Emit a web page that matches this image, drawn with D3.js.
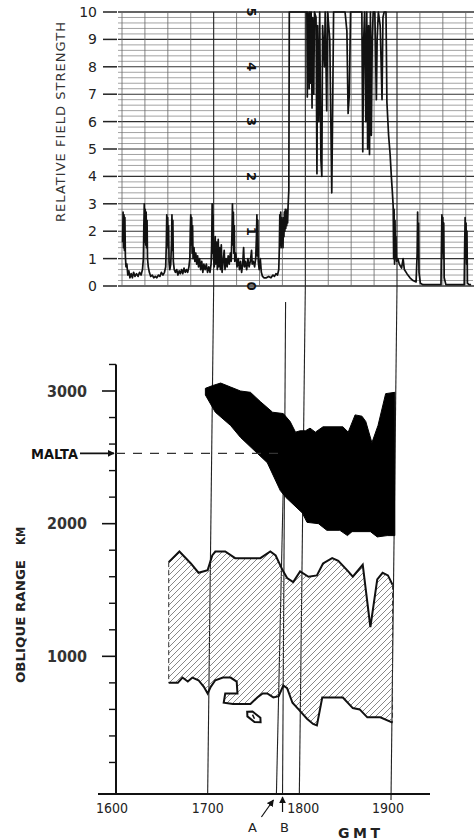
<!DOCTYPE html>
<html><head><meta charset="utf-8">
<script src="https://cdn.jsdelivr.net/npm/d3@7"></script>
<style>body{margin:0;background:#fff}svg{display:block}</style>
</head><body><svg id="c" width="476" height="840"></svg>
<script>
// ---------- DATA ----------
// top panel: relative field strength trace, time in minutes after 1600 GMT
const traceTime = [0.4,0.7,1.0,1.3,1.6,1.9,2.2,2.6,3.2,3.8,4.5,5.2,6.0,6.8,7.6,8.5,9.5,10.5,11.5,12.5,13.4,14.0,
14.3,14.6,14.9,15.2,15.5,15.8,16.1,16.4,16.7,17.2,17.9,18.8,19.8,20.8,21.8,22.8,23.8,24.8,25.8,26.8,27.8,28.6,
29.0,29.3,29.6,29.9,30.2,30.5,30.8,31.3,31.9,32.4,32.7,33.0,33.3,33.6,34.2,35.0,35.8,36.6,37.4,38.2,39.0,39.8,40.6,41.4,42.2,43.0,43.8,44.4,
44.7,45.0,45.3,45.6,45.9,46.2,46.5,47.1,47.7,48.3,48.9,49.5,50.1,50.8,51.5,52.2,52.9,53.6,54.4,55.2,56.0,56.8,57.6,58.3,
58.7,59.0,59.3,59.6,59.9,60.4,61.0,61.4,62.0,62.4,63.0,63.4,64.0,64.4,65.0,65.5,66.2,66.9,67.4,68.1,68.8,69.5,70.2,70.9,71.5,
72.0,72.3,72.6,72.9,73.2,73.5,73.8,74.5,75.3,76.1,76.9,77.6,78.3,79.0,79.6,80.1,80.8,81.6,82.4,83.2,84.0,84.8,85.2,
86.0,86.8,87.5,88.0,88.3,88.6,88.9,89.2,89.8,90.5,91.2,92.0,93.0,94.5,96.0,97.5,98.8,99.8,100.8,101.8,102.6,
103.0,103.3,103.6,103.9,104.2,104.5,104.8,105.1,105.4,105.7,106.0,106.3,106.6,106.9,107.2,107.5,107.8,108.1,108.4,108.7,109.2,109.5,
121.0,121.3,121.6,122.2,122.5,122.8,123.4,123.8,124.4,124.8,125.5,126.0,127.0,127.6,128.0,128.8,129.4,130.2,130.8,131.3,132.5,133.0,134.0,134.6,136.0,137.3,137.8,138.5,
146.0,147.2,148.0,148.8,149.6,157.0,157.6,158.2,158.8,159.6,160.2,160.8,161.4,162.0,162.6,163.2,163.8,164.4,165.5,166.5,167.0,167.8,169.0,170.2,170.8,171.6,172.8,
173.4,174.5,175.5,176.3,177.0,177.5,177.8,178.1,178.4,178.7,179.0,179.3,179.7,180.5,181.5,183.0,184.0,184.8,186.5,188.5,190.5,192.5,
193.2,193.5,193.8,194.1,194.4,195.3,197.0,202.0,208.8,209.1,209.4,209.7,210.0,210.3,210.6,210.9,212.0,218.0,224.0,
224.3,224.6,224.9,225.2,225.5,225.8,226.1,227.2,228.5];
const traceStrength = [1.6,2.7,1.4,2.6,1.3,2.5,1.1,0.7,0.8,0.4,0.55,0.3,0.45,0.3,0.5,0.35,0.45,0.35,0.5,0.4,0.6,1.0,
2.2,3.0,1.6,2.8,1.5,2.7,1.4,2.4,1.0,0.7,0.5,0.35,0.4,0.3,0.35,0.3,0.4,0.35,0.5,0.4,0.5,0.7,
1.5,2.6,1.5,2.5,1.4,2.2,0.9,0.6,0.8,1.6,2.6,1.3,2.4,0.9,0.6,0.5,0.6,0.4,0.55,0.45,0.6,0.45,0.65,0.5,0.6,0.5,0.7,1.0,
2.0,2.6,1.5,2.5,1.2,2.2,1.0,1.4,0.9,1.2,0.8,1.1,0.7,1.0,0.6,0.9,0.5,0.8,0.6,0.8,0.5,0.7,0.5,0.8,
1.5,3.0,1.2,2.6,1.0,0.7,1.8,0.8,1.6,0.6,1.7,0.7,1.4,0.6,1.5,0.5,0.9,1.3,0.6,1.0,0.7,1.1,0.8,1.2,0.9,
2.0,3.0,1.5,2.7,1.2,2.2,0.9,1.2,0.7,1.0,0.6,0.9,0.5,0.8,1.4,0.7,0.9,0.6,1.0,0.7,0.9,1.3,0.8,
0.9,0.7,1.0,1.8,2.6,1.1,2.4,0.9,0.6,1.0,0.5,0.35,0.3,0.3,0.35,0.3,0.4,0.35,0.45,0.4,0.6,
1.4,2.6,1.5,2.7,1.4,2.5,1.6,2.4,1.4,2.5,1.8,2.7,2.0,2.8,2.1,2.6,2.2,2.8,2.3,2.9,3.5,10,
10,6.9,10,9.5,7.2,10,7.4,10,6.5,9.8,7.0,10,9.8,4.1,9.5,6.0,10,4.6,4.0,9.5,8.0,10,6.4,10,9.0,3.4,6.0,10,
10,9.3,6.3,7.0,10,10,4.9,9.0,10,6.0,10,5.0,9.5,4.8,10,5.5,9.0,10,10,6.8,9.0,10,9.5,6.8,9.8,10,10,
6.7,5.5,4.8,4.0,3.4,2.9,1.0,2.8,0.8,2.4,1.0,1.8,0.9,1.0,0.8,0.65,1.0,0.6,0.45,0.3,0.2,0.15,
1.2,2.7,1.0,2.3,0.5,0.1,0.05,0.05,0.05,1.5,2.6,1.2,2.5,1.0,2.3,0.3,0.05,0.05,0.05,
1.5,2.5,1.0,2.3,0.8,2.0,0.1,0.05,0.05];

const strengthTicks = [0,1,2,3,4,5,6,7,8,9,10];
const strengthTickLabels = ["0","1","2","3","4","5","6","7","8","9","10"];
const paperDigitValues = [10,8,6,4,2,0];
const paperDigitLabels = ["5","4","3","2","1","0"];

// bottom panel: oblique range (km) vs time (minutes after 1600 GMT)
const blackTopTime = [58.5,63,68.5,75,81.5,88,94.5,102.5,109.5,114,117.5,120.5,124,127,130.5,135.5,148.5,152,156.5,161,163.5,167.5,171.5,176.5,182.5];
const blackTopRange = [3020,3040,3060,3030,3000,2990,2920,2840,2830,2770,2690,2700,2700,2720,2690,2730,2730,2690,2820,2810,2770,2610,2740,2980,2990];
const blackBottomTime = [58.5,65,75,81.5,92.5,99,107.5,111,122,125,132.5,138,146.5,151.5,154.5,166.5,171,177.5,182.5];
const blackBottomRange = [2970,2840,2740,2650,2530,2460,2250,2200,2080,2010,2000,1950,1950,1910,1940,1940,1900,1910,1910];

const hatchTopTime = [34.5,41.5,49,54,60,63,65,71.5,78,94.5,101,104.5,109,112,116,120.5,126,131.5,135.5,141.5,145.5,152,155,161.5,166.5,171,174.5,178,181];
const hatchTopRange = [1710,1790,1700,1630,1650,1760,1790,1790,1740,1740,1790,1760,1650,1590,1560,1640,1600,1610,1700,1740,1720,1640,1600,1690,1220,1580,1630,1610,1540];
const hatchBottomTime = [34.5,40.5,43.5,47,50,54,57.5,60,62,65,70,75,79,79.5,71.5,70.5,76.5,88,92.5,96,99,103,106.5,109.5,112,115.5,119.5,125,129,131.5,135,148.5,155,159.5,164.5,173,181];
const hatchBottomRange = [800,800,840,810,840,820,770,720,770,820,840,840,810,720,720,650,640,640,690,720,720,690,700,780,760,650,600,530,490,480,690,690,610,600,540,540,500];

const timeTickMinutes = [0,60,120,180];
const timeTickLabels = ["1600","1700","1800","1900"];
const rangeMajorTicks = [1000,2000,3000];
const rangeMajorLabels = ["1000","2000","3000"];
const rangeMinorTicks = [200,400,600,800,1200,1400,1600,1800,2200,2400,2600,2800,3200];
const maltaRange = 2530;
const markerTimes = [105,109];
const markerLabels = ["A","B"];

// ---------- SCALES ----------
const svg = d3.select("#c");
const xB = d3.scaleLinear().domain([0,180]).range([116,391]);
const xT = d3.scaleLinear().domain([0,180]).range([122,397]);
const yT = d3.scaleLinear().domain([0,10]).range([286,12]);
const yB = d3.scaleLinear().domain([0,3000]).range([789,391]);
const baseY = 794;
const font = "DejaVu Sans, sans-serif";

// ---------- TOP PANEL ----------
const gT = svg.append("g");
const minorLevels = d3.range(0,50).map(i=>i*0.2).filter(v=>Math.abs(v-Math.round(v))>0.01);
gT.selectAll("line.hm").data(minorLevels).join("line")
  .attr("x1",118).attr("x2",473).attr("y1",d=>yT(d)).attr("y2",d=>yT(d))
  .attr("stroke","#8c8c8c").attr("stroke-width",0.8);
gT.selectAll("line.hM").data(strengthTicks).join("line")
  .attr("x1",118).attr("x2",474).attr("y1",d=>yT(d)).attr("y2",d=>yT(d))
  .attr("stroke","#333").attr("stroke-width",d=>(d===0||d===10)?1.6:1.1);
const vGrid = d3.range(0,226,15);
gT.selectAll("line.v").data(vGrid).join("line")
  .attr("x1",d=>xT(d)).attr("x2",d=>xT(d)).attr("y1",yT(10)).attr("y2",yT(0))
  .attr("stroke",d=>d%60===0&&d>0?"#222":"#666").attr("stroke-width",d=>d%60===0&&d>0?1.1:0.8);
gT.selectAll("line.t").data(strengthTicks).join("line")
  .attr("x1",103).attr("x2",117).attr("y1",d=>yT(d)).attr("y2",d=>yT(d))
  .attr("stroke","#222").attr("stroke-width",1.5);
gT.selectAll("text.t").data(strengthTicks).join("text")
  .attr("x",97).attr("y",d=>yT(d)+5).attr("text-anchor","end")
  .attr("font-family",font).attr("font-size",14).attr("fill","#222")
  .text((d,i)=>strengthTickLabels[i]);
gT.selectAll("text.p").data(paperDigitValues).join("text")
  .attr("transform",d=>`translate(${xT(85)},${yT(d)}) rotate(90)`)
  .attr("text-anchor","middle").attr("dominant-baseline","central")
  .attr("font-family",font).attr("font-weight","bold").attr("font-size",13).attr("fill","#111")
  .text((d,i)=>paperDigitLabels[i]);
gT.append("text").attr("transform","translate(65,222) rotate(-90)")
  .attr("font-family",font).attr("font-size",13).attr("fill","#333")
  .attr("textLength",200).attr("lengthAdjust","spacing")
  .text("RELATIVE FIELD STRENGTH");
const traceData = traceTime.map((t,i)=>[t,traceStrength[i]]);
gT.append("path").datum(traceData)
  .attr("d",d3.line().x(d=>xT(d[0])).y(d=>yT(d[1])))
  .attr("fill","none").attr("stroke","#111").attr("stroke-width",1.7).attr("stroke-linejoin","round");

// ---------- BOTTOM PANEL ----------
const defs = svg.append("defs");
const pat = defs.append("pattern").attr("id","hatch").attr("patternUnits","userSpaceOnUse")
  .attr("width",6).attr("height",6);
pat.append("path").attr("d","M-1,1 l2,-2 M0,6 l6,-6 M5,7 l2,-2")
  .attr("stroke","#7a7a7a").attr("stroke-width",0.9);
const mk = defs.append("marker").attr("id","arr").attr("viewBox","0 0 10 10")
  .attr("refX",9).attr("refY",5).attr("markerWidth",7).attr("markerHeight",7)
  .attr("markerUnits","userSpaceOnUse").attr("orient","auto");
mk.append("path").attr("d","M0,0 L10,5 L0,10 Z").attr("fill","#111");

const gB = svg.append("g");
const hourLines = [60,120,180];
gB.selectAll("path.hl").data(hourLines).join("path")
  .attr("d",d=>`M${xT(d)},${yT(0)} L${xB(d)},${d===180?baseY+6:baseY}`)
  .attr("stroke","#222").attr("stroke-width",1.1).attr("fill","none");
gB.append("path").attr("d",`M${xB(111)},${302} L${xB(markerTimes[1])},${baseY}`)
  .attr("stroke","#222").attr("stroke-width",1.1).attr("fill","none");
gB.append("path").attr("d",`M${xB(110.5)},${yB(2800)} L${xB(markerTimes[0])},${baseY}`)
  .attr("stroke","#222").attr("stroke-width",1.1).attr("fill","none");

const hatchTop = hatchTopTime.map((t,i)=>[t,hatchTopRange[i]]);
const hatchBot = hatchBottomTime.map((t,i)=>[t,hatchBottomRange[i]]);
const lineB = d3.line().x(d=>xB(d[0])).y(d=>yB(d[1]));
gB.append("path").attr("d",lineB(hatchTop.concat(hatchBot.slice().reverse()))+"Z")
  .attr("fill","url(#hatch)").attr("stroke","none");
gB.append("path").attr("d",lineB(hatchTop)).attr("fill","none").attr("stroke","#111").attr("stroke-width",2);
gB.append("path").attr("d",lineB(hatchBot)).attr("fill","none").attr("stroke","#111").attr("stroke-width",2);
const sides = [[hatchTop[0],hatchBot[0]],[hatchTop[hatchTop.length-1],hatchBot[hatchBot.length-1]]];
gB.selectAll("path.side").data(sides).join("path").attr("d",d=>lineB(d))
  .attr("stroke","#333").attr("stroke-width",1).attr("stroke-dasharray","5,3").attr("fill","none");

const blackTop = blackTopTime.map((t,i)=>[t,blackTopRange[i]]);
const blackBot = blackBottomTime.map((t,i)=>[t,blackBottomRange[i]]);
gB.append("path").attr("d",lineB(blackTop.concat(blackBot.slice().reverse()))+"Z")
  .attr("fill","#000").attr("stroke","#000").attr("stroke-width",1);

gB.append("g").attr("transform",`translate(${xB(90)},${yB(545)}) rotate(38)`)
  .call(g=>{
    g.append("path").attr("d","M-8,0 L-4,-3.5 L6,-3.5 L9,0 L4,3.5 L-5,3.5 Z")
      .attr("fill","#fff").attr("stroke","#111").attr("stroke-width",2);
    g.append("path").attr("d","M-2,-1 L2,1").attr("stroke","#111").attr("stroke-width",1.5);
  });

gB.append("line").attr("x1",xB(0)).attr("x2",xB(0)).attr("y1",yB(3200)).attr("y2",baseY)
  .attr("stroke","#111").attr("stroke-width",2);
gB.selectAll("line.mj").data(rangeMajorTicks).join("line")
  .attr("x1",102).attr("x2",xB(0)).attr("y1",d=>yB(d)).attr("y2",d=>yB(d))
  .attr("stroke","#111").attr("stroke-width",1.6);
gB.selectAll("line.mn").data(rangeMinorTicks).join("line")
  .attr("x1",109).attr("x2",xB(0)).attr("y1",d=>yB(d)).attr("y2",d=>yB(d))
  .attr("stroke","#111").attr("stroke-width",1.4);
gB.selectAll("text.yl").data(rangeMajorTicks).join("text")
  .attr("x",87).attr("y",d=>yB(d)+5.5).attr("text-anchor","end")
  .attr("font-family",font).attr("font-weight","bold").attr("font-size",15).attr("fill","#333")
  .attr("textLength",40).attr("lengthAdjust","spacingAndGlyphs")
  .text((d,i)=>rangeMajorLabels[i]);
gB.append("text").attr("transform","translate(25,683) rotate(-90)")
  .attr("font-family",font).attr("font-weight","bold").attr("font-size",13).attr("fill","#222")
  .attr("textLength",123).attr("lengthAdjust","spacingAndGlyphs").text("OBLIQUE RANGE");
gB.append("text").attr("transform","translate(25,545) rotate(-90)")
  .attr("font-family",font).attr("font-weight","bold").attr("font-size",13).attr("fill","#222")
  .attr("textLength",18).attr("lengthAdjust","spacingAndGlyphs").text("KM");

gB.append("line").attr("x1",xB(0)).attr("x2",xB(107)).attr("y1",yB(maltaRange)).attr("y2",yB(maltaRange))
  .attr("stroke","#333").attr("stroke-width",1.3).attr("stroke-dasharray","9,8");
gB.append("text").attr("x",31).attr("y",yB(maltaRange)+5.5)
  .attr("font-family",font).attr("font-weight","bold").attr("font-size",14.5).attr("fill","#111")
  .attr("textLength",47).attr("lengthAdjust","spacingAndGlyphs").text("MALTA");
gB.append("line").attr("x1",80).attr("x2",xB(0)-2).attr("y1",yB(maltaRange)).attr("y2",yB(maltaRange))
  .attr("stroke","#111").attr("stroke-width",1.6).attr("marker-end","url(#arr)");

gB.append("line").attr("x1",98).attr("x2",430).attr("y1",baseY).attr("y2",baseY)
  .attr("stroke","#111").attr("stroke-width",2);
gB.selectAll("text.xl").data(timeTickMinutes).join("text")
  .attr("x",d=>xB(d)-(d===0?4:0)+(d===120?4:0)-(d===180?3:0)).attr("y",813).attr("text-anchor","middle")
  .attr("font-family",font).attr("font-size",14).attr("fill","#222")
  .attr("textLength",32).attr("lengthAdjust","spacingAndGlyphs")
  .text((d,i)=>timeTickLabels[i]);
gB.append("line").attr("x1",xB(markerTimes[0])-15).attr("x2",xB(markerTimes[0])-3)
  .attr("y1",817).attr("y2",800).attr("stroke","#111").attr("stroke-width",1.2).attr("marker-end","url(#arr)");
gB.append("line").attr("x1",xB(markerTimes[1])).attr("x2",xB(markerTimes[1]))
  .attr("y1",812).attr("y2",797).attr("stroke","#111").attr("stroke-width",1.2).attr("marker-end","url(#arr)");
gB.selectAll("text.ab").data(markerTimes).join("text")
  .attr("x",(d,i)=>i===0?xB(d)-24:xB(d)+2).attr("y",832).attr("text-anchor","middle")
  .attr("font-family",font).attr("font-size",13).attr("fill","#222")
  .text((d,i)=>markerLabels[i]);
gB.append("text").attr("x",338).attr("y",838)
  .attr("font-family",font).attr("font-weight","bold").attr("font-size",14).attr("fill","#222")
  .attr("textLength",42).attr("lengthAdjust","spacing").text("G M T");
</script></body></html>
